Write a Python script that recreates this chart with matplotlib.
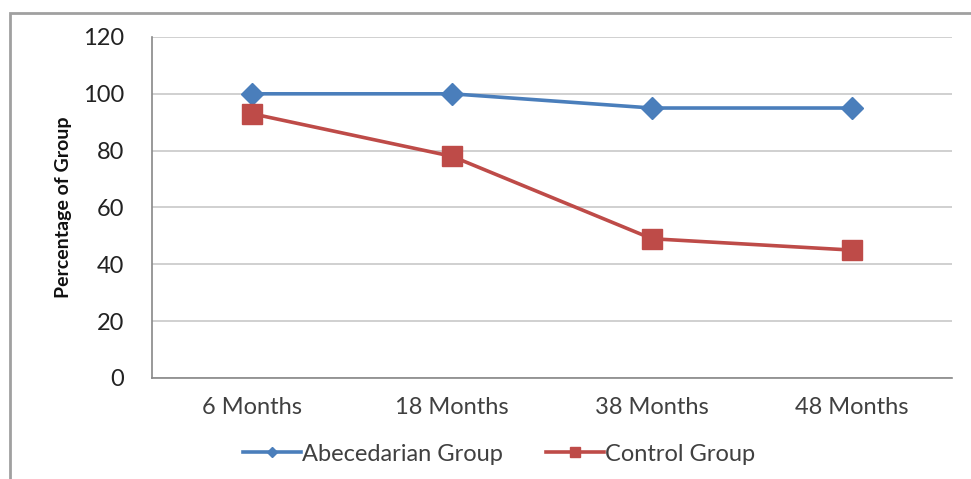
import matplotlib
matplotlib.use("Agg")
import matplotlib.pyplot as plt
from matplotlib.patches import Rectangle

# data
categories = ["6 Months", "18 Months", "38 Months", "48 Months"]
abecedarian = [100, 100, 95, 95]
control = [93, 78, 49, 45]
y_ticks = [0, 20, 40, 60, 80, 100, 120]

blue = "#4A7EBB"
red = "#BE4B48"
text_col = "#404040"

plt.rcParams["font.family"] = ["Lato", "DejaVu Sans"]

fig = plt.figure(figsize=(9.71, 4.79), dpi=100)
ax = fig.add_axes([0.1565, 0.2109, 0.8240, 0.7119])

# outer chart-area frame (right/bottom run off the picture)
fig.patches.append(Rectangle((10 / 971, -0.05), 1.1, 1 - 13 / 479 + 0.05,
                             transform=fig.transFigure, fill=False,
                             edgecolor="#A0A0A0", linewidth=2.0))

x = list(range(len(categories)))
ax.plot(x, abecedarian, color=blue, linewidth=2.6, marker="D", markersize=11,
        label="Abecedarian Group", zorder=3)
ax.plot(x, control, color=red, linewidth=2.6, marker="s", markersize=15,
        label="Control Group", zorder=3)

ax.set_xlim(-0.5, len(categories) - 0.5)
ax.set_ylim(0, 120)
ax.set_yticks(y_ticks)
ax.set_xticks(x)
ax.set_xticklabels(categories)
ax.grid(axis="y", color="#C8C8C8", linewidth=1.2)
ax.set_axisbelow(True)

for s in ("top", "right"):
    ax.spines[s].set_visible(False)
for s in ("left", "bottom"):
    ax.spines[s].set_color("#888888")
    ax.spines[s].set_linewidth(1.2)

ax.tick_params(axis="both", length=0, labelsize=17, colors=text_col)
ax.tick_params(axis="y", pad=20, labelcolor="#222222")
ax.tick_params(axis="x", pad=14)

ax.set_ylabel("Percentage of Group", fontsize=14, fontweight="bold",
              color="#111111")
ax.yaxis.set_label_coords(-0.1, 0.5)

ax.legend(loc="upper center", bbox_to_anchor=(0.434, -0.13), ncol=2, frameon=False,
          fontsize=17, labelcolor=text_col, handlelength=2.45, handletextpad=0.05,
          columnspacing=1.8, markerscale=0.5)

fig.savefig("out.png", dpi=100)
